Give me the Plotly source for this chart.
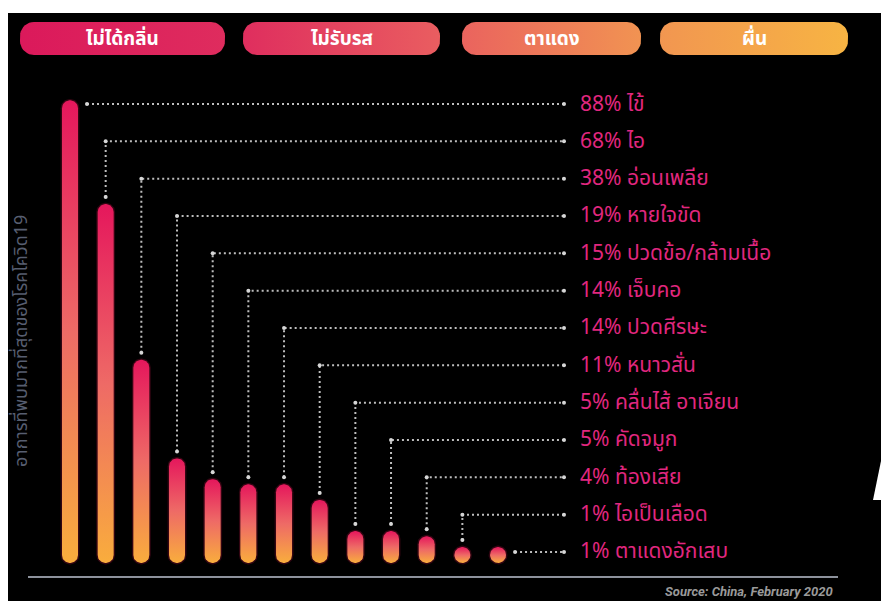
import numpy as np
import plotly.graph_objects as go

# ---- data -------------------------------------------------------------
symptoms = ["ไข้", "ไอ", "อ่อนเพลีย", "หายใจขัด", "ปวดข้อ/กล้ามเนื้อ", "เจ็บคอ",
            "ปวดศีรษะ", "หนาวสั่น", "คลื่นไส้ อาเจียน", "คัดจมูก", "ท้องเสีย",
            "ไอเป็นเลือด", "ตาแดงอักเสบ"]
percent = [88, 68, 38, 19, 15, 14, 14, 11, 5, 5, 4, 1, 1]
headers = ["ไม่ได้กลิ่น", "ไม่รับรส", "ตาแดง", "ผื่น"]
axis_title = "อาการที่พบมากที่สุดของโรคโควิด19"
source_text = "Source: China, February 2020"

# ---- layout constants (pixels) ---------------------------------------
W, H = 881, 601
CAT_PX, CAT0_PX = 35.67, 70          # spacing of bars, centre of first bar
PCT_PX, ZERO_PX = 5.19, 557          # pixels per percent, pixel row of 0 %
BAR_HALF_PX = 8
BAR_BOTTOM_PX = 563
ROW0_PX, ROW_STEP_PX = 104, 37.33
LINE_END_PX = 564
LABEL_X_PX = 578
THAI = "Noto Sans Thai, Noto Sans Thai UI, Noto Sans, Loma, Garuda, sans-serif"


def px2x(p):
    return (p - CAT0_PX) / CAT_PX


def px2y(p):
    return (ZERO_PX - p) / PCT_PX


def xp(p):
    return p / W


def yp(p):
    return 1 - p / H


x_range = [px2x(0), px2x(W)]
y_range = [px2y(H), px2y(0)]

rx = BAR_HALF_PX / CAT_PX
ry = BAR_HALF_PX / PCT_PX
bottom_v = px2y(BAR_BOTTOM_PX)

bar_scale = [[0.0, "#f9ad3d"], [0.5, "#ee6a66"], [1.0, "#e5175c"]]
fig = go.Figure()


def capsule(cx, cb, ct, ax, ay, n=24):
    t = np.linspace(0, np.pi, n)
    xs = np.concatenate([cx + ax * np.cos(t), cx + ax * np.cos(t + np.pi), [cx + ax]])
    ys = np.concatenate([ct + ay * np.sin(t), cb + ay * np.sin(t + np.pi), [ct]])
    return xs, ys


line_x, line_y, dot_x, dot_y = [], [], [], []
label_ann = []
for i, (name, v) in enumerate(zip(symptoms, percent)):
    cb = bottom_v + ry
    ct = max(v - ry, cb)
    top_v = ct + ry

    # soft halo behind each bar
    hx, hy = capsule(i, cb, ct, rx + 1.4 / CAT_PX, ry + 1.4 / PCT_PX)
    fig.add_trace(go.Scatter(x=hx, y=hy, mode="lines", fill="toself",
                             fillcolor="rgba(170,15,60,0.3)", line=dict(width=0),
                             hoverinfo="skip"))
    xs, ys = capsule(i, cb, ct, rx, ry)
    fig.add_trace(go.Scatter(x=xs, y=ys, mode="lines", fill="toself",
                             fillgradient=dict(type="vertical", colorscale=bar_scale),
                             line=dict(width=0), hoverinfo="skip"))

    # dotted leader from bar to its label row
    row_px = ROW0_PX + ROW_STEP_PX * i
    row_v = px2y(row_px)
    top_px = ZERO_PX - top_v * PCT_PX
    if row_px < top_px - 3:
        px_ = [i, i, px2x(LINE_END_PX)]
        py_ = [top_v + 7 / PCT_PX, row_v, row_v]
    else:
        px_ = [i + rx + 9 / CAT_PX, px2x(LINE_END_PX)]
        py_ = [row_v, row_v]
    line_x += px_ + [None]
    line_y += py_ + [None]
    dot_x += px_
    dot_y += py_

    label_ann.append(dict(x=px2x(LABEL_X_PX), y=row_v, xref="x", yref="y",
                          text=f"{v}% {name}", showarrow=False, xanchor="left",
                          yanchor="middle",
                          font=dict(family=THAI, size=21, color="#e1277f")))

fig.add_trace(go.Scatter(x=line_x, y=line_y, mode="lines",
                         line=dict(color="#bdbdbd", width=2, dash="2px,3px"),
                         hoverinfo="skip"))
fig.add_trace(go.Scatter(x=dot_x, y=dot_y, mode="markers",
                         marker=dict(color="#d6d6d6", size=4), hoverinfo="skip"))

# ---- header pills (pixel axes) ---------------------------------------
pill_spans = [(20, 225), (243, 440), (462, 641), (660, 848)]
PILL_TOP, PILL_BOT, PILL_R = 22, 55, 14
pill_scale = [[0.0, "#db195b"], [0.27, "#df2e5e"], [0.5, "#e95c60"],
              [0.75, "#f19352"], [1.0, "#f7b443"]]


def rounded_rect(x0, x1, y0, y1, r, n=10):
    pts = []
    for cx, cy, a0 in [(x1 - r, y0 + r, -np.pi / 2), (x1 - r, y1 - r, 0),
                       (x0 + r, y1 - r, np.pi / 2), (x0 + r, y0 + r, np.pi)]:
        a = np.linspace(a0, a0 + np.pi / 2, n)
        pts += list(zip(cx + r * np.cos(a), cy + r * np.sin(a)))
    pts.append(pts[0])
    return [p[0] for p in pts], [p[1] for p in pts]


head_ann = []
for (x0, x1), label in zip(pill_spans, headers):
    xs, ys = rounded_rect(x0, x1, PILL_TOP, PILL_BOT, PILL_R)
    fig.add_trace(go.Scatter(x=xs, y=ys, xaxis="x2", yaxis="y2", mode="lines",
                             fill="toself", line=dict(width=0), hoverinfo="skip",
                             fillgradient=dict(type="horizontal", colorscale=pill_scale,
                                               start=pill_spans[0][0],
                                               stop=pill_spans[-1][1])))
    head_ann.append(dict(x=(x0 + x1) / 2, y=(PILL_TOP + PILL_BOT) / 2 + 1,
                         xref="x2", yref="y2", text=f"<b>{label}</b>",
                         showarrow=False, xanchor="center", yanchor="middle",
                         font=dict(family=THAI, size=19, color="white")))

# ---- frame, baseline, texts ------------------------------------------
shapes = [
    dict(type="rect", xref="paper", yref="paper", x0=xp(8), x1=1, y0=0, y1=yp(13),
         fillcolor="black", line=dict(width=0), layer="below"),
    dict(type="line", xref="paper", yref="paper", x0=xp(28), x1=xp(838),
         y0=yp(577), y1=yp(577), line=dict(color="#8d929c", width=2)),
    dict(type="path", xref="paper", yref="paper", fillcolor="white", line=dict(width=0),
         path=f"M {xp(881)},{yp(461)} L {xp(873)},{yp(500)} L {xp(881)},{yp(500)} Z"),
]

other_ann = [
    dict(x=xp(21), y=yp(341), xref="paper", yref="paper", text=axis_title,
         showarrow=False, textangle=-90, xanchor="center", yanchor="middle",
         font=dict(family=THAI, size=18, color="#575e70")),
    dict(x=xp(835), y=yp(591), xref="paper", yref="paper",
         text=f"<b><i>{source_text}</i></b>", showarrow=False, xanchor="right",
         yanchor="middle", font=dict(family="Roboto, sans-serif", size=13,
                                     color="#9a9a9a")),
]

fig.update_layout(
    width=W, height=H, margin=dict(l=0, r=0, t=0, b=0),
    paper_bgcolor="white", plot_bgcolor="rgba(0,0,0,0)", showlegend=False,
    xaxis=dict(range=x_range, visible=False, fixedrange=True),
    yaxis=dict(range=y_range, visible=False, fixedrange=True),
    xaxis2=dict(range=[0, W], overlaying="x", anchor="y2", visible=False),
    yaxis2=dict(range=[H, 0], overlaying="y", anchor="x2", visible=False),
    shapes=shapes,
    annotations=label_ann + head_ann + other_ann,
)

fig.write_html("out.html")
